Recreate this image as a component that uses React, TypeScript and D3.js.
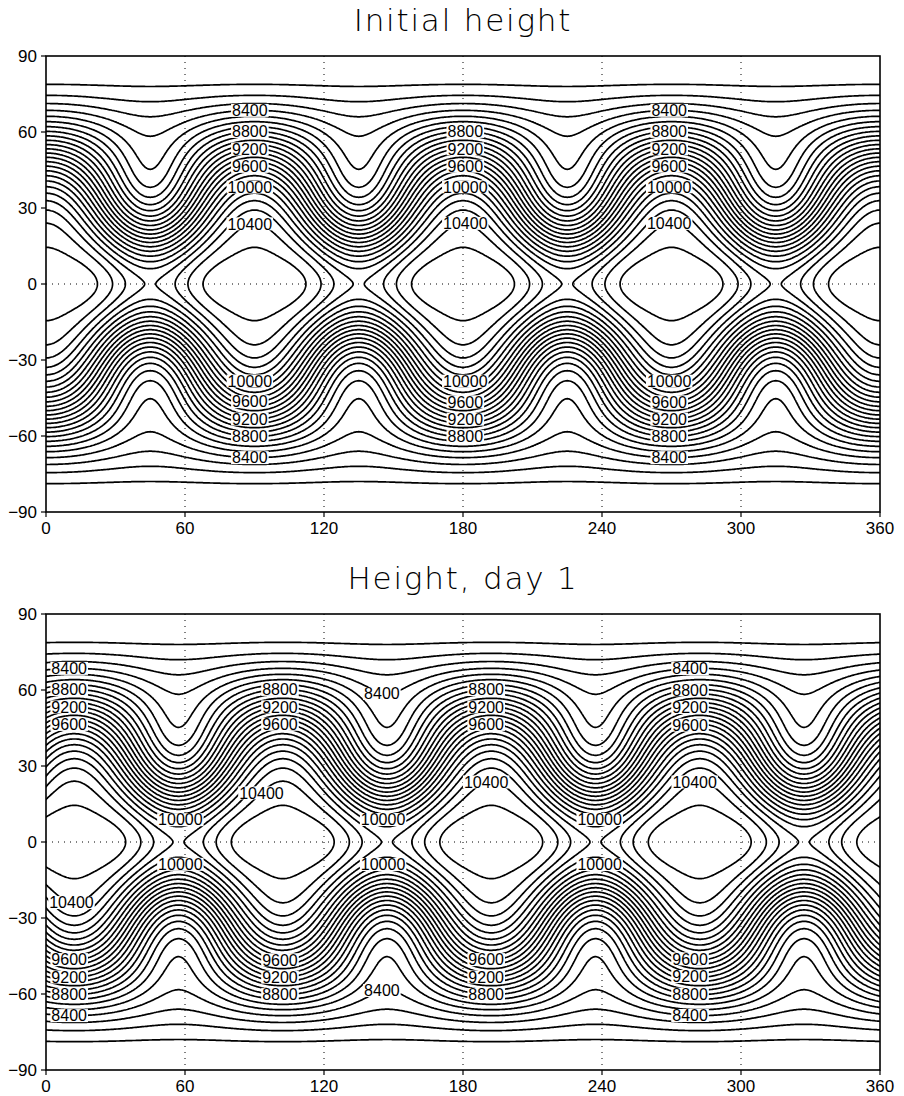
import React, { useMemo } from 'react';
import * as d3 from 'd3';

const WIDTH = 904;
const HEIGHT = 1096;
const PLOT_LEFT = 46;
const PLOT_RIGHT = 880;
const PLOT_H = 456;
const PANEL_TOPS = [56, 614];

const TITLES = ['Initial height', 'Height, day 1'];
const DAYS = [0, 1];
const LON_TICKS = [0, 60, 120, 180, 240, 300, 360];
const LAT_TICKS = [-90, -60, -30, 0, 30, 60, 90];
const LON_GRID = [60, 120, 180, 240, 300];
const LAT_GRID = [0];
const LEVELS = [
  8100, 8200, 8300, 8400, 8500, 8600, 8700, 8800, 8900, 9000, 9100, 9200, 9300,
  9400, 9500, 9600, 9700, 9800, 9900, 10000, 10100, 10200, 10300, 10400, 10500,
];

// Rossby-Haurwitz wave (wavenumber 4) parameters
const H0 = 8000;
const WAVE_R = 4;
const WAVE_OMEGA = 7.848e-6;
const WAVE_K = 7.848e-6;
const EARTH_OMEGA = 7.292e-5;
const EARTH_RADIUS = 6.37122e6;
const GRAVITY = 9.80616;

// contour labels: [longitude, level, hemisphere (1 north, -1 south)]
const INITIAL_LABELS = [
  [88, 8400, 1], [88, 8800, 1], [88, 9200, 1], [88, 9600, 1], [88, 10000, 1], [88, 10400, 1],
  [181, 8800, 1], [181, 9200, 1], [181, 9600, 1], [181, 10000, 1], [181, 10400, 1],
  [269, 8400, 1], [269, 8800, 1], [269, 9200, 1], [269, 9600, 1], [269, 10000, 1], [269, 10400, 1],
  [88, 10000, -1], [88, 9600, -1], [88, 9200, -1], [88, 8800, -1], [88, 8400, -1],
  [181, 10000, -1], [181, 9600, -1], [181, 9200, -1], [181, 8800, -1],
  [269, 10000, -1], [269, 9600, -1], [269, 9200, -1], [269, 8800, -1], [269, 8400, -1],
];
const DAY1_LABELS = [
  [10, 8400, 1], [10, 8800, 1], [10, 9200, 1], [10, 9600, 1],
  [101, 8800, 1], [101, 9200, 1], [101, 9600, 1], [93, 10400, 1],
  [145, 8400, 1],
  [190, 8800, 1], [190, 9200, 1], [190, 9600, 1], [190, 10400, 1],
  [278, 8400, 1], [278, 8800, 1], [278, 9200, 1], [278, 9600, 1], [280, 10400, 1],
  [58, 10000, 1], [145.5, 10000, 1], [239, 10000, 1],
  [58, 10000, -1], [145.5, 10000, -1], [239, 10000, -1],
  [11, 10400, -1], [10, 9600, -1], [10, 9200, -1], [10, 8800, -1], [10, 8400, -1],
  [101, 9600, -1], [101, 9200, -1], [101, 8800, -1],
  [145, 8400, -1],
  [190, 9600, -1], [190, 9200, -1], [190, 8800, -1],
  [278, 9600, -1], [278, 9200, -1], [278, 8800, -1], [278, 8400, -1],
];
const PANEL_LABELS = [INITIAL_LABELS, DAY1_LABELS];

const GRID_STEP = 0.5;
const LON_MIN = -4;
const LON_MAX = 364;
const LAT_MAX = 94;

function heightAt(lonDeg: number, latDeg: number, day: number) {
  const R = WAVE_R, w = WAVE_OMEGA, K = WAVE_K, W = EARTH_OMEGA;
  const nu = (R * (3 + R) * w - 2 * W) / ((1 + R) * (2 + R));
  const lam = (lonDeg * Math.PI) / 180 - nu * day * 86400;
  const c = Math.cos((latDeg * Math.PI) / 180);
  const c2 = c * c;
  const cR = Math.pow(c, R);
  const c2R = Math.pow(c, 2 * R);
  const c2R2 = Math.pow(c, 2 * R - 2);
  const A = (w / 2) * (2 * W + w) * c2 +
    0.25 * K * K * (c2R * ((R + 1) * c2 + (2 * R * R - R - 2)) - 2 * R * R * c2R2);
  const B = ((2 * (W + w) * K) / ((R + 1) * (R + 2))) * cR * ((R * R + 2 * R + 2) - (R + 1) * (R + 1) * c2);
  const C = 0.25 * K * K * c2R * ((R + 1) * c2 - (R + 2));
  return H0 + (EARTH_RADIUS * EARTH_RADIUS / GRAVITY) * (A + B * Math.cos(R * lam) + C * Math.cos(2 * R * lam));
}

function findLat(lon: number, level: number, hemi: number, day: number) {
  let prevLat = 0;
  let prev = heightAt(lon, 0, day) - level;
  for (let a = 0.02; a < 90; a += 0.02) {
    const lat = a * hemi;
    const v = heightAt(lon, lat, day) - level;
    if ((prev >= 0) !== (v >= 0)) {
      return prevLat + (lat - prevLat) * (prev / (prev - v));
    }
    prev = v;
    prevLat = lat;
  }
  return prevLat;
}

const Panel = ({ index }: { index: number }) => {
  const top = PANEL_TOPS[index];
  const day = DAYS[index];
  const x = d3.scaleLinear().domain([0, 360]).range([PLOT_LEFT, PLOT_RIGHT]);
  const y = d3.scaleLinear().domain([-90, 90]).range([top + PLOT_H, top]);

  const paths = useMemo(() => {
    const nx = Math.round((LON_MAX - LON_MIN) / GRID_STEP) + 1;
    const ny = Math.round((2 * LAT_MAX) / GRID_STEP) + 1;
    const values = new Float64Array(nx * ny);
    for (let j = 0; j < ny; j++) {
      const lat = LAT_MAX - j * GRID_STEP;
      for (let i = 0; i < nx; i++) {
        values[j * nx + i] = heightAt(LON_MIN + i * GRID_STEP, lat, day);
      }
    }
    const contours = d3.contours().size([nx, ny]).thresholds(LEVELS)(Array.from(values));
    return contours.map((c) => {
      let d = '';
      c.coordinates.forEach((poly) => {
        poly.forEach((ring) => {
          ring.forEach((p, k) => {
            const px = x(LON_MIN + (p[0] - 0.5) * GRID_STEP);
            const py = y(LAT_MAX - (p[1] - 0.5) * GRID_STEP);
            d += (k === 0 ? 'M' : 'L') + px.toFixed(1) + ',' + py.toFixed(1);
          });
          d += 'Z';
        });
      });
      return { value: c.value, d };
    });
  }, [day]);

  const labels = useMemo(
    () =>
      PANEL_LABELS[index].map(([lon, level, hemi]) => ({
        lon,
        level,
        lat: findLat(lon, level, hemi, day),
      })),
    [index, day]
  );

  const clipId = `clip-${index}`;
  const bottom = top + PLOT_H;

  return (
    <g>
      <defs>
        <clipPath id={clipId}>
          <rect x={PLOT_LEFT} y={top} width={PLOT_RIGHT - PLOT_LEFT} height={PLOT_H} />
        </clipPath>
      </defs>
      <text
        x={(PLOT_LEFT + PLOT_RIGHT) / 2}
        y={top - 25}
        textAnchor="middle"
        fontFamily="DejaVu Sans, sans-serif"
        fontWeight={200}
        fontSize={31}
        letterSpacing={1.8}
        fill="#000"
      >
        {TITLES[index]}
      </text>

      <g clipPath={`url(#${clipId})`}>
        {LON_GRID.map((g) => (
          <line key={`vg${g}`} x1={x(g)} x2={x(g)} y1={top} y2={bottom} stroke="#000" strokeWidth={1} strokeDasharray="1 5" />
        ))}
        {LAT_GRID.map((g) => (
          <line key={`hg${g}`} x1={PLOT_LEFT} x2={PLOT_RIGHT} y1={y(g)} y2={y(g)} stroke="#000" strokeWidth={1} strokeDasharray="1 5" />
        ))}
        {paths.map((p) => (
          <path key={p.value} d={p.d} fill="none" stroke="#000" strokeWidth={1.7} strokeLinejoin="round" />
        ))}
        {labels.map((l, i) => {
          const txt = String(l.level);
          const w = txt.length * 8.9 + 2;
          return (
            <g key={i}>
              <rect x={x(l.lon) - w / 2} y={y(l.lat) - 6.5} width={w} height={13} fill="#fff" />
              <text
                x={x(l.lon)}
                y={y(l.lat)}
                dy="0.36em"
                textAnchor="middle"
                fontFamily="Liberation Sans, Arial, sans-serif"
                fontSize={16}
                fill="#000"
              >
                {txt}
              </text>
            </g>
          );
        })}
      </g>

      <rect x={PLOT_LEFT} y={top} width={PLOT_RIGHT - PLOT_LEFT} height={PLOT_H} fill="none" stroke="#000" strokeWidth={1.6} />

      {LAT_TICKS.map((t) => (
        <g key={`yt${t}`}>
          <line x1={PLOT_LEFT - 5} x2={PLOT_LEFT} y1={y(t)} y2={y(t)} stroke="#000" strokeWidth={1.2} />
          <text
            x={PLOT_LEFT - 9}
            y={y(t)}
            dy="0.36em"
            textAnchor="end"
            fontFamily="Liberation Sans, Arial, sans-serif"
            fontSize={17}
            fill="#000"
          >
            {t < 0 ? `\u2212${-t}` : t}
          </text>
        </g>
      ))}
      {LON_TICKS.map((t) => (
        <g key={`xt${t}`}>
          <line x1={x(t)} x2={x(t)} y1={bottom} y2={bottom + 5} stroke="#000" strokeWidth={1.2} />
          <text
            x={x(t)}
            y={bottom + 22}
            textAnchor="middle"
            fontFamily="Liberation Sans, Arial, sans-serif"
            fontSize={17}
            fill="#000"
          >
            {t}
          </text>
        </g>
      ))}
    </g>
  );
};

export default function App() {
  return (
    <div style={{ position: 'absolute', left: 0, top: 0, background: '#fff' }}>
      <svg width={WIDTH} height={HEIGHT} viewBox={`0 0 ${WIDTH} ${HEIGHT}`} style={{ display: 'block' }}>
        <rect width={WIDTH} height={HEIGHT} fill="#fff" />
        {DAYS.map((_, i) => (
          <Panel key={i} index={i} />
        ))}
      </svg>
    </div>
  );
}
